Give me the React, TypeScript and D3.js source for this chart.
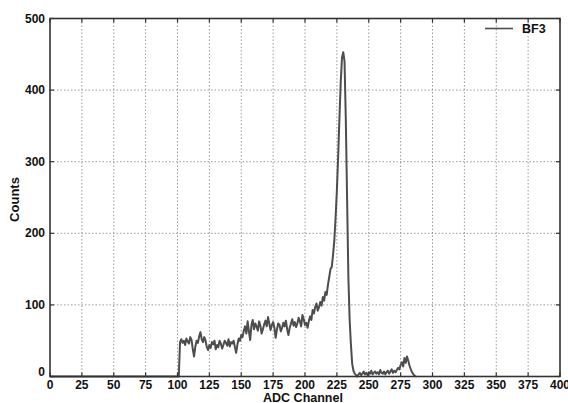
import { useEffect, useRef } from "react";
import * as d3 from "d3";

// counts per ADC channel, starting at channel 0
const counts = [
  0, 0, 0, 0, 0, 0, 0, 0, 0, 0, 0, 0, 0, 0, 0, 0, 0, 0, 0, 0,
  0, 0, 0, 0, 0, 0, 0, 0, 0, 0, 0, 0, 0, 0, 0, 0, 0, 0, 0, 0,
  0, 0, 0, 0, 0, 0, 0, 0, 0, 0, 0, 0, 0, 0, 0, 0, 0, 0, 0, 0,
  0, 0, 0, 0, 0, 0, 0, 0, 0, 0, 0, 0, 0, 0, 0, 0, 0, 0, 0, 0,
  0, 0, 0, 0, 0, 0, 0, 0, 0, 0, 0, 0, 0, 0, 0, 0, 0, 0, 0, 0,
  0, 0,
  // 102
  48, 52, 47, 50, 44, 53, 49, 46, 55, 51, 38, 28, 42, 50, 47, 56, 62, 52,
  // 120
  48, 55, 50, 41, 37, 44, 40, 48, 45, 50, 38, 44, 41, 50, 46, 39, 44, 50, 47, 43,
  // 140
  52, 42, 48, 46, 50, 41, 33, 45, 53, 50, 58, 55, 64, 70, 60, 77, 63, 51, 72, 79,
  // 160
  66, 74, 70, 64, 77, 71, 60, 66, 73, 78, 70, 83, 74, 65, 72, 76, 68, 54, 66, 74,
  // 180
  72, 63, 68, 75, 70, 78, 66, 58, 68, 74, 80, 71, 76, 69, 74, 82, 77, 70, 86, 80,
  // 200
  72, 75, 68, 77, 84, 79, 93, 88, 97, 102, 92, 97, 104, 99, 111, 106, 118, 114, 128, 139,
  // 220
  150, 153, 170, 190, 222, 260, 307, 360, 410, 445, 453, 440, 360, 250, 140, 80, 45, 18, 8, 4,
  // 240
  2, 0, 3, 5, 2, 4, 7, 3, 5, 2, 6, 4, 8, 3, 5, 7, 4, 6, 3, 9,
  // 260
  5, 4, 7, 3, 6, 8, 4, 7, 10, 5, 8, 6, 9, 12, 10, 16, 20, 14, 26, 19,
  // 280
  28, 22, 15, 10, 6, 3, 1, 0,
];

const xTicks = [0, 25, 50, 75, 100, 125, 150, 175, 200, 225, 250, 275, 300, 325, 350, 375, 400];
const yTicks = [0, 100, 200, 300, 400, 500];
const seriesName = "BF3";
const xTitle = "ADC Channel";
const yTitle = "Counts";

const W = 568;
const H = 403;
const margin = { left: 50, right: 8, top: 18.5, bottom: 26.5 };
const font = "'Liberation Sans', Arial, Helvetica, sans-serif";

const App = () => {
  const ref = useRef<SVGSVGElement>(null);

  useEffect(() => {
    const svg = d3.select(ref.current);
    svg.selectAll("*").remove();

    const x = d3.scaleLinear().domain([0, 400]).range([margin.left, W - margin.right]);
    const y = d3.scaleLinear().domain([0, 500]).range([H - margin.bottom, margin.top]);
    const x0 = x(0), x1 = x(400), y0 = y(0), y1 = y(500);

    // grid
    const grid = svg.append("g").attr("stroke", "#9a9a9a").attr("stroke-width", 1).attr("stroke-dasharray", "1.5,2");
    grid.selectAll(".gx")
      .data(xTicks.slice(1, -1))
      .enter()
      .append("line")
      .attr("x1", (d) => x(d))
      .attr("x2", (d) => x(d))
      .attr("y1", y1)
      .attr("y2", y0);
    grid.selectAll(".gy")
      .data(yTicks.slice(1, -1))
      .enter()
      .append("line")
      .attr("x1", x0)
      .attr("x2", x1)
      .attr("y1", (d) => y(d))
      .attr("y2", (d) => y(d));

    // data line
    const line = d3.line<number>()
      .x((d, i) => x(i))
      .y((d) => y(d));
    svg.append("path")
      .datum(counts)
      .attr("fill", "none")
      .attr("stroke", "#4d4d4d")
      .attr("stroke-width", 2)
      .attr("stroke-linejoin", "round")
      .attr("d", line);

    // frame and inward ticks
    const axisColor = "#333";
    svg.append("rect")
      .attr("x", x0)
      .attr("y", y1)
      .attr("width", x1 - x0)
      .attr("height", y0 - y1)
      .attr("fill", "none")
      .attr("stroke", axisColor)
      .attr("stroke-width", 1.6);

    const tickLen = 4;
    const ticks = svg.append("g").attr("stroke", axisColor).attr("stroke-width", 1.2);
    xTicks.forEach((t) => {
      ticks.append("line").attr("x1", x(t)).attr("x2", x(t)).attr("y1", y0).attr("y2", y0 - tickLen);
      ticks.append("line").attr("x1", x(t)).attr("x2", x(t)).attr("y1", y1).attr("y2", y1 + tickLen);
    });
    yTicks.forEach((t) => {
      ticks.append("line").attr("x1", x0).attr("x2", x0 + tickLen).attr("y1", y(t)).attr("y2", y(t));
      ticks.append("line").attr("x1", x1).attr("x2", x1 - tickLen).attr("y1", y(t)).attr("y2", y(t));
    });

    // tick labels
    svg.append("g")
      .selectAll("text")
      .data(xTicks)
      .enter()
      .append("text")
      .attr("x", (d) => x(d))
      .attr("y", y0 + 12)
      .attr("text-anchor", "middle")
      .attr("font-family", font)
      .attr("font-weight", "bold")
      .attr("font-size", 12)
      .attr("fill", "#111")
      .text((d) => d);

    svg.append("g")
      .selectAll("text")
      .data(yTicks)
      .enter()
      .append("text")
      .attr("x", x0 - 5)
      .attr("y", (d) => (d === 0 ? y(d) - 1 : y(d) + 4))
      .attr("text-anchor", "end")
      .attr("font-family", font)
      .attr("font-weight", "bold")
      .attr("font-size", 12)
      .attr("fill", "#111")
      .text((d) => d);

    // axis titles
    svg.append("text")
      .attr("x", (x0 + x1) / 2 - 2)
      .attr("y", H - 1.5)
      .attr("text-anchor", "middle")
      .attr("font-family", font)
      .attr("font-weight", "bold")
      .attr("font-size", 12.5)
      .attr("fill", "#111")
      .text(xTitle);

    svg.append("text")
      .attr("transform", `translate(19, ${(y0 + y1) / 2 + 2}) rotate(-90)`)
      .attr("text-anchor", "middle")
      .attr("font-family", font)
      .attr("font-weight", "bold")
      .attr("font-size", 13)
      .attr("fill", "#111")
      .text(yTitle);

    // legend
    const lg = svg.append("g").attr("transform", `translate(${x1 - 75}, ${y1 + 10})`);
    lg.append("line")
      .attr("x1", 0)
      .attr("x2", 28)
      .attr("y1", 0)
      .attr("y2", 0)
      .attr("stroke", "#4d4d4d")
      .attr("stroke-width", 1.6);
    lg.append("text")
      .attr("x", 37)
      .attr("y", 4.5)
      .attr("font-family", font)
      .attr("font-weight", "bold")
      .attr("font-size", 12.5)
      .attr("fill", "#111")
      .text(seriesName);
  }, []);

  return (
    <svg
      ref={ref}
      width={W}
      height={H}
      style={{ position: "absolute", left: 0, top: 0, background: "#fff" }}
    ></svg>
  );
};

export default App;
